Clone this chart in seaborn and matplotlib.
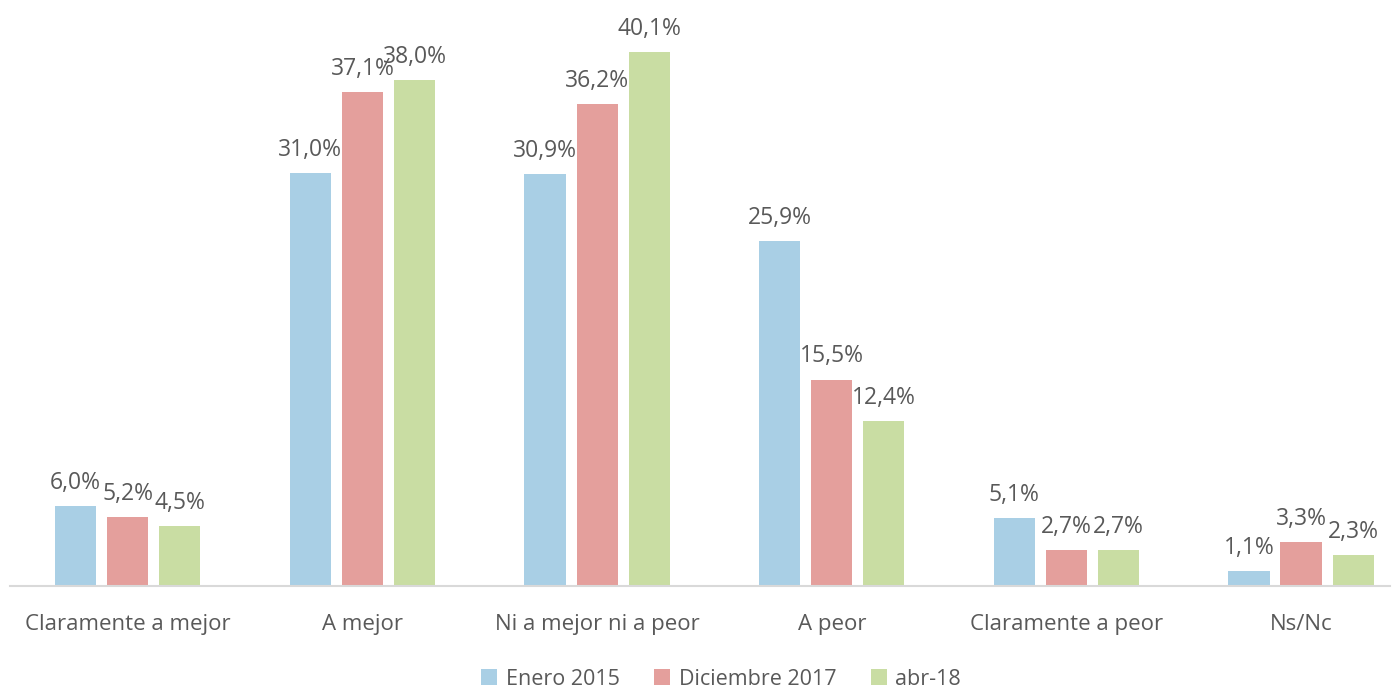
import matplotlib
matplotlib.use("Agg")
import matplotlib.pyplot as plt
import seaborn as sns
import pandas as pd

# Categories and series
categories = ["Claramente a mejor", "A mejor", "Ni a mejor ni a peor",
              "A peor", "Claramente a peor", "Ns/Nc"]
series = ["Enero 2015", "Diciembre 2017", "abr-18"]
enero_2015 = [6.0, 31.0, 30.9, 25.9, 5.1, 1.1]
diciembre_2017 = [5.2, 37.1, 36.2, 15.5, 2.7, 3.3]
abr_18 = [4.5, 38.0, 40.1, 12.4, 2.7, 2.3]
colors = ["#A9CFE5", "#E49F9C", "#C9DDA3"]

df = pd.DataFrame({
    "categoria": categories * 3,
    "serie": [s for s in series for _ in categories],
    "valor": enero_2015 + diciembre_2017 + abr_18,
})

sns.set_style("white")
plt.rcParams["font.family"] = ["Open Sans", "DejaVu Sans"]
text_color = "#595959"

fig = plt.figure(figsize=(14, 6.87), dpi=100)
ax = fig.add_axes([0.007, 0.147, 0.986, 0.853])

sns.barplot(data=df, x="categoria", y="valor", hue="serie",
            order=categories, hue_order=series, palette=colors,
            width=0.666, gap=0.21, saturation=1, ax=ax, legend=True,
            linewidth=0)

# data labels
for container in ax.containers:
    labels = [f"{v:.1f}%".replace(".", ",") for v in container.datavalues]
    ax.bar_label(container, labels=labels, padding=8, fontsize=16.5,
                 color=text_color)

ax.set_ylim(0, 44)
ax.set_xlim(-0.503, 5.38)
ax.set_xlabel("")
ax.set_ylabel("")
ax.set_yticks([])
ax.tick_params(axis="x", length=0, pad=20, labelsize=16, labelcolor=text_color)
for side in ["top", "right", "left"]:
    ax.spines[side].set_visible(False)
ax.spines["bottom"].set_color("#D9D9D9")
ax.spines["bottom"].set_linewidth(1.5)

handles, labs = ax.get_legend_handles_labels()
ax.get_legend().remove()
fig.legend(handles, labs, loc="lower center", ncol=3, frameon=False,
           fontsize=15.5, labelcolor=text_color, bbox_to_anchor=(0.515, -0.032),
           handlelength=0.75, handleheight=0.75, handletextpad=0.4,
           columnspacing=1.6)

fig.savefig("out.png", dpi=100)
